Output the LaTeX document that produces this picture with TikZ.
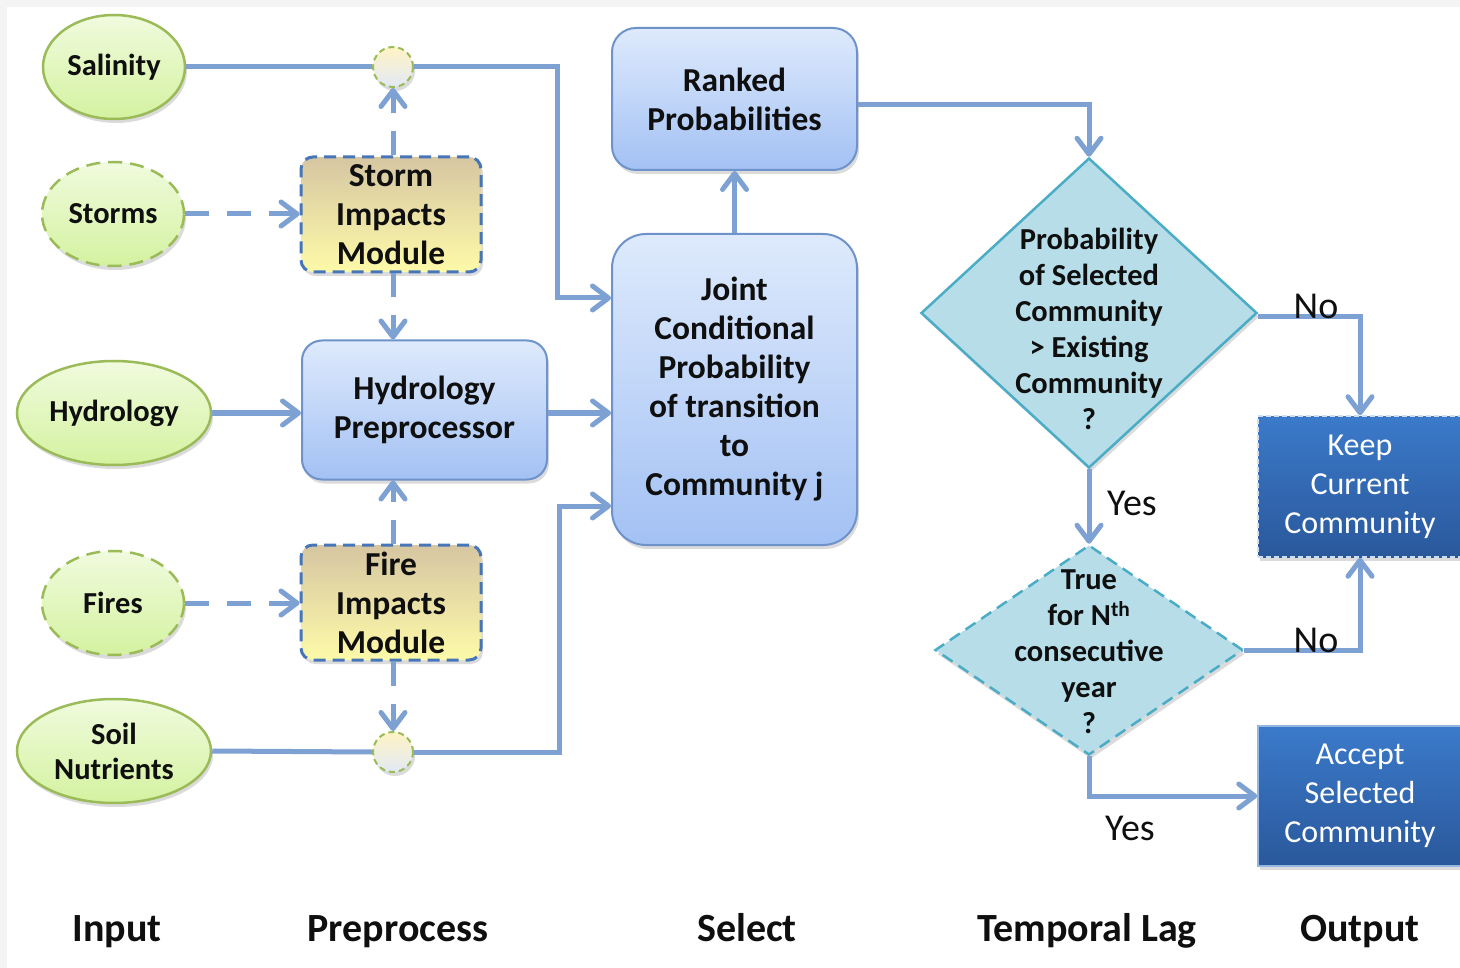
\documentclass[tikz,border=0pt]{standalone}
\usepackage{fontspec}
\setmainfont{Carlito}
\usetikzlibrary{arrows.meta,shapes.geometric,shadows,calc}

\definecolor{conn}{RGB}{126,161,212}
\definecolor{ellTop}{RGB}{240,251,222}
\definecolor{ellBot}{RGB}{212,242,160}
\definecolor{ellLine}{RGB}{155,187,89}
\definecolor{boxTop}{RGB}{222,234,252}
\definecolor{boxBot}{RGB}{163,193,244}
\definecolor{boxLine}{RGB}{110,146,202}
\definecolor{modTop}{RGB}{214,198,162}
\definecolor{modBot}{RGB}{253,250,168}
\definecolor{modLine}{RGB}{70,118,184}
\definecolor{decFill}{RGB}{183,222,232}
\definecolor{decLine}{RGB}{75,172,198}
\definecolor{outTop}{RGB}{59,122,202}
\definecolor{outBot}{RGB}{42,88,155}
\definecolor{jTop}{RGB}{255,243,196}
\definecolor{jBot}{RGB}{226,233,246}
\definecolor{edge}{RGB}{244,244,244}
\definecolor{ink}{RGB}{15,15,15}

\tikzset{
  x=1pt, y=-1pt,
  shadowed/.style={drop shadow={opacity=0.28, shadow xshift=2pt, shadow yshift=-4pt}},
  inp/.style={ellipse, draw=ellLine, line width=2.5pt, top color=ellTop, bottom color=ellBot,
    minimum width=142pt, minimum height=104pt, inner sep=0pt, align=center, text=ink,
    font=\fontsize{30.5}{35}\selectfont\bfseries, shadowed},
  inpwide/.style={inp, minimum width=194pt},
  inpdash/.style={inp, dash pattern=on 14pt off 8pt},
  junc/.style={circle, draw=ellLine, line width=2pt, dash pattern=on 6pt off 4pt,
    top color=jTop, bottom color=jBot, minimum size=40pt, inner sep=0pt, shadowed},
  bluebox/.style={rectangle, rounded corners=22pt, draw=boxLine, line width=2pt,
    top color=boxTop, bottom color=boxBot, align=center, text=ink, inner sep=0pt,
    font=\fontsize{33.5}{39}\selectfont\bfseries, shadowed},
  modbox/.style={rectangle, rounded corners=12pt, draw=modLine, line width=3pt,
    dash pattern=on 12pt off 7pt, top color=modTop, bottom color=modBot,
    minimum width=180pt, minimum height=115pt, align=center, text=ink, inner sep=0pt,
    font=\fontsize{33.5}{39}\selectfont\bfseries, shadowed},
  decision/.style={diamond, fill=decFill, draw=decLine, line width=2.5pt, inner sep=0pt, shadowed},
  dectext/.style={align=center, text=ink, font=\fontsize{30.5}{36}\selectfont\bfseries},
  outbox/.style={rectangle, top color=outTop, bottom color=outBot, line width=1.5pt,
    minimum width=204pt, align=center, text=white, inner sep=0pt,
    font=\fontsize{32}{39}\selectfont, shadowed},
  answer/.style={text=ink, font=\fontsize{38}{40}\selectfont},
  stage/.style={text=ink, anchor=base, inner sep=0pt, font=\fontsize{40}{42}\selectfont\bfseries},
  link/.style={draw=conn, line width=5pt,
    -{Straight Barb[length=16pt, width=24pt, line width=5pt, round]}},
  plainline/.style={draw=conn, line width=5pt},
  dashlink/.style={link, dash pattern=on 24pt off 18pt},
}

\begin{document}
\begin{tikzpicture}
  \useasboundingbox (0,0) rectangle (1460,968);
  \fill[white] (0,0) rectangle (1460,968);
  \fill[edge] (0,0) rectangle (1460,7);
  \fill[edge] (0,0) rectangle (7,968);

  % input ellipses
  \node[inp]      (sal)  at (114,67)  {Salinity};
  \node[inpdash]  (sto)  at (113,214) {Storms};
  \node[inpwide]  (hyd)  at (114,413) {Hydrology};
  \node[inpdash]  (fir)  at (113,603) {Fires};
  \node[inpwide]  (soil) at (114,751) {Soil\\Nutrients};

  % junction points
  \node[junc] (j1) at (393,67) {};
  \node[junc] (j2) at (393,752) {};

  % preprocessing
  \node[modbox] (smod) at (391,214.5) {Storm\\Impacts\\Module};
  \node[bluebox, minimum width=245pt, minimum height=139pt, rounded corners=20pt]
        (pre) at (424.5,410) {Hydrology\\Preprocessor};
  \node[modbox] (fmod) at (391,602.5) {Fire\\Impacts\\Module};

  % selection
  \node[bluebox, minimum width=245pt, minimum height=311pt, rounded corners=34pt]
        (joint) at (734.5,389.5) {Joint\\Conditional\\Probability\\of transition\\to\\Community j};
  \node[bluebox, minimum width=245pt, minimum height=142pt, rounded corners=24pt]
        (rank) at (734.5,99) {Ranked\\Probabilities};

  % temporal lag decisions
  \node[decision, minimum width=336pt, minimum height=310pt] (d1) at (1089,313) {};
  \node[dectext] (d1t) at (1089,329)
        {Probability\\of Selected\\Community\\> Existing\\Community\\?};
  \node[decision, dash pattern=on 12pt off 7pt, minimum width=308pt, minimum height=210pt]
        (d2) at (1089,650) {};
  \node[dectext] (d2t) at (1089,652)
        {True\\for N\textsuperscript{th}\\consecutive\\year\\?};

  % outputs
  \node[outbox, minimum height=141pt, draw=white!75!outTop, dash pattern=on 5pt off 3pt]
        (keep) at (1360,486.5) {Keep\\Current\\Community};
  \node[outbox, minimum height=140pt, draw=white!45!outTop]
        (acc) at (1360,796) {Accept\\Selected\\Community};

  % connectors
  \coordinate (salTurn)  at (557,298);
  \coordinate (soilTurn) at (559,506);
  \draw[plainline] (sal.east) -- (j1.west);
  \draw[link] (j1.east) -| (salTurn) -- (salTurn -| joint.west);
  \draw[dashlink] (sto.east) -- (sto.east -| smod.west);
  \draw[dashlink] (smod.north -| j1) -- (j1.south);
  \draw[dashlink] (smod.south -| j1) -- (pre.north -| j1);
  \draw[link] (hyd.east) -- (hyd.east -| pre.west);
  \draw[link] (pre.east |- hyd.east) -- (joint.west |- hyd.east);
  \draw[dashlink] (fmod.north -| j1) -- (pre.south -| j1);
  \draw[dashlink] (fir.east) -- (fir.east -| fmod.west);
  \draw[dashlink] (fmod.south -| j2) -- (j2.north);
  \draw[plainline] (soil.east) -- (j2.west);
  \draw[link] (j2.east) -| (soilTurn) -- (soilTurn -| joint.west);
  \draw[link] (joint.north) -- (rank.south);
  \draw[link] ($(rank.east)+(0,6)$) -| (d1.north);
  \draw[link] ($(d1.east)+(0,4)$) -| (keep.north);
  \draw[link] (d1.south) -- (d2.north);
  \draw[link] (d2.east) -| (keep.south);
  \draw[link] (d2.south) |- (acc.west);

  % branch answers
  \node[answer] (noA)  at (1316,306) {No};
  \node[answer] (yesA) at (1132,503) {Yes};
  \node[answer] (noB)  at (1316,640) {No};
  \node[answer] (yesB) at (1130,828) {Yes};

  % stage captions
  \node[stage] (cIn)   at (117,941)  {Input};
  \node[stage] (cPre)  at (398,941)  {Preprocess};
  \node[stage] (cSel)  at (747,941)  {Select};
  \node[stage] (cLag)  at (1087,941) {Temporal Lag};
  \node[stage] (cOut)  at (1360,941) {Output};
\end{tikzpicture}
\end{document}
